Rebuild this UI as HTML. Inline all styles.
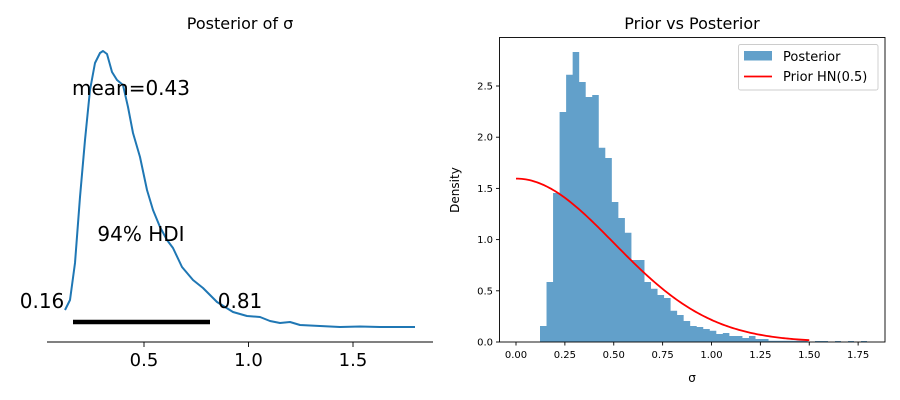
<!DOCTYPE html>
<html><head><meta charset="utf-8"><style>
body{margin:0;background:#fff;}
svg{display:block;font-family:"DejaVu Sans","Liberation Sans",sans-serif;}
</style></head><body>
<svg id="s" width="900" height="400" viewBox="0 0 900 400" xmlns="http://www.w3.org/2000/svg">
<rect width="900" height="400" fill="#fff"/>
<!-- left -->
<text x="240" y="29" font-size="16" text-anchor="middle">Posterior of σ</text>
<line x1="47" y1="342" x2="433" y2="342" stroke="#000" stroke-width="0.9"/>
<g stroke="#000" stroke-width="0.9"><line x1="144" y1="342" x2="144" y2="347"/><line x1="248.5" y1="342" x2="248.5" y2="347"/><line x1="353" y1="342" x2="353" y2="347"/></g>
<g font-size="18" text-anchor="middle"><text x="144" y="366">0.5</text><text x="248.5" y="366">1.0</text><text x="353" y="366">1.5</text></g>
<path fill="none" stroke="#1f77b4" stroke-width="2" stroke-linejoin="round" d="M65,310 L70,300 L75,263 L80,197 L85,140 L90,90 L95,63 L100,53 L103,51 L107,54 L112,72 L117,80 L123,85 L128,107 L133,133 L140,157 L147,190 L153,210 L160,227 L167,240 L173,248 L182,267 L193,280 L203,288 L217,302 L233,312 L247,316 L260,317 L270,321 L280,323 L290,322 L300,325 L320,326 L340,327 L360,326.5 L380,327 L415,327"/>
<line x1="73" y1="322" x2="210" y2="322" stroke="#000" stroke-width="4.5"/>
<g font-size="20"><text x="131" y="95" text-anchor="middle">mean=0.43</text><text x="141" y="241" text-anchor="middle">94% HDI</text><text x="42" y="308" text-anchor="middle">0.16</text><text x="240" y="308" text-anchor="middle">0.81</text></g>
<!-- right -->
<text x="692" y="29" font-size="16" text-anchor="middle">Prior vs Posterior</text>
<path id="bars" fill="#1f77b4" fill-opacity="0.7"/>
<path id="red" fill="none" stroke="#ff0000" stroke-width="1.8"/>
<rect x="499.5" y="37.5" width="385.5" height="304.5" fill="none" stroke="#000" stroke-width="0.9"/>
<g id="ticks" font-size="10" stroke-width="0.9"></g>
<text x="692" y="382" font-size="12" text-anchor="middle">σ</text>
<text transform="translate(459,190) rotate(-90)" font-size="12" text-anchor="middle">Density</text>
<rect x="738.5" y="44.5" width="139.5" height="45.5" rx="2" fill="#fff" fill-opacity="0.8" stroke="#ccc" stroke-width="0.9"/>
<rect x="744" y="51" width="28" height="9.5" fill="#1f77b4" fill-opacity="0.7"/>
<line x1="744" y1="76.5" x2="772" y2="76.5" stroke="#ff0000" stroke-width="1.8"/>
<text x="783" y="61" font-size="13">Posterior</text>
<text x="783" y="81" font-size="13">Prior HN(0.5)</text>
</svg>
<script>
function X(v){return 516+v*195.5;} function Y(v){return 342-v*102.4;}
var tops=[326,282,193,112,74.7,52,82,97,95,147.7,158,202,218,232.7,260,260,282,288.7,295,298,310.7,315,321,326,327,329,330.7,334,333,336,336,338,336,339,339,340.7,340.7,340.7,340.7,340.7,340.7];
var w=6.53,x0=540,d="M"+x0+",342";
for(var i=0;i<tops.length;i++){var x=x0+i*w;d+=" L"+x.toFixed(2)+","+tops[i]+" L"+(x+w).toFixed(2)+","+tops[i];}
d+=" L"+(x0+tops.length*w).toFixed(2)+",342 Z";
[[815,828],[835,841],[848,854],[861,867]].forEach(function(b){d+=" M"+b[0]+",342 L"+b[0]+",341 L"+b[1]+",341 L"+b[1]+",342 Z";});
document.getElementById("bars").setAttribute("d",d);
var r="";for(var v=0;v<=1.5001;v+=0.01){r+=(v==0?"M":"L")+X(v).toFixed(2)+","+Y(1.5958*Math.exp(-2*v*v)).toFixed(2);}
document.getElementById("red").setAttribute("d",r);
var t="";
[0,0.25,0.5,0.75,1,1.25,1.5,1.75].forEach(function(v){var x=X(v);t+='<line x1="'+x+'" y1="342" x2="'+x+'" y2="345.5" stroke="#000"/><text x="'+x+'" y="358" text-anchor="middle">'+v.toFixed(2)+'</text>';});
[0,0.5,1,1.5,2,2.5].forEach(function(v){var y=Y(v);t+='<line x1="496" y1="'+y+'" x2="499.5" y2="'+y+'" stroke="#000"/><text x="493" y="'+(y+3.5)+'" text-anchor="end">'+v.toFixed(1)+'</text>';});
document.getElementById("ticks").innerHTML=t;
</script>
</body></html>
